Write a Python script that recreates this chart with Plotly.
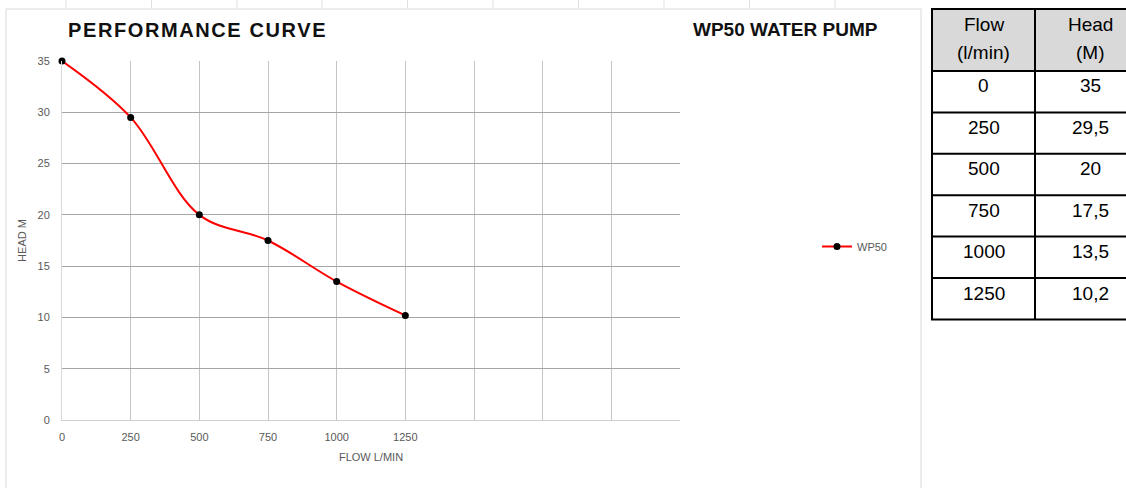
import plotly.graph_objects as go

# ---- data ----
flow = [0, 250, 500, 750, 1000, 1250]
head = [35, 29.5, 20, 17.5, 13.5, 10.2]
series_name = "WP50"
x_grid = [0, 250, 500, 750, 1000, 1250, 1500, 1750, 2000, 2250]
x_tick_labels = ["0", "250", "500", "750", "1000", "1250", "", "", "", ""]
y_ticks = [0, 5, 10, 15, 20, 25, 30, 35]
table_header_line1 = ["Flow", "Head"]
table_header_line2 = ["(l/min)", "(M)"]
title_left = "PERFORMANCE CURVE"
title_right = "WP50 WATER PUMP"

# ---- layout geometry (pixels) ----
W, H = 1126, 488
L, R, T, B = 62, 680, 61, 420


def px(x):
    return (x - L) / (R - L)


def py(y):
    return (B - y) / (B - T)


NARROW = "Liberation Sans Narrow, Arial Narrow, Liberation Sans, sans-serif"
GREY_TXT = "#595959"

fig = go.Figure()
fig.add_trace(go.Scatter(
    x=flow, y=head, name=series_name, mode="lines+markers",
    line=dict(color="#ff0000", width=2, shape="spline", smoothing=1),
    marker=dict(color="#000000", size=7),
    cliponaxis=False,
))

shapes = []
annotations = []

# chart frame
shapes.append(dict(type="rect", xref="paper", yref="paper",
                   x0=px(6), x1=px(921), y0=py(9), y1=py(495),
                   line=dict(color="#d9d9d9", width=1), layer="below"))
# spreadsheet cell lines peeking above the chart
for gx in [66, 151.5, 237, 322, 407.5, 493, 578.5, 664, 749.5, 835]:
    shapes.append(dict(type="line", xref="paper", yref="paper",
                       x0=px(gx), x1=px(gx), y0=py(0), y1=py(8),
                       line=dict(color="#e1e1e1", width=1)))

# titles
annotations.append(dict(
    xref="paper", yref="paper", x=px(66), y=py(30.5), xanchor="left", yanchor="middle",
    text='<span style="letter-spacing:1.6px"><b>' + title_left + '</b></span>',
    showarrow=False, font=dict(family="Liberation Sans, Arial, sans-serif", size=20, color="#111111")))
annotations.append(dict(
    xref="paper", yref="paper", x=px(785), y=py(30), xanchor="center", yanchor="middle",
    text="<b>" + title_right + "</b>",
    showarrow=False, font=dict(family=NARROW, size=19, color="#111111")))

# ---- table on the right ----
tx0, tx1, tx2 = 932, 1035, 1145
hdr_top, hdr_bot = 9, 71
row_h = 41.4
n = len(flow)
tbl_bot = hdr_bot + n * row_h
shapes.append(dict(type="rect", xref="paper", yref="paper",
                   x0=px(tx0), x1=px(tx2), y0=py(hdr_top), y1=py(hdr_bot),
                   fillcolor="#d9d9d9", line=dict(width=0), layer="below"))
blk = dict(color="#000000", width=2)
shapes.append(dict(type="rect", xref="paper", yref="paper",
                   x0=px(tx0), x1=px(tx2), y0=py(hdr_top), y1=py(tbl_bot), line=blk))
shapes.append(dict(type="line", xref="paper", yref="paper",
                   x0=px(tx1), x1=px(tx1), y0=py(hdr_top), y1=py(tbl_bot), line=blk))
for i in range(n):
    yy = hdr_bot + i * row_h
    shapes.append(dict(type="line", xref="paper", yref="paper",
                       x0=px(tx0), x1=px(tx2), y0=py(yy), y1=py(yy), line=blk))

cell_font = dict(family="Liberation Sans, Arial, sans-serif", size=19, color="#000000")
col_cx = [983.5, 1090]
for c in range(2):
    annotations.append(dict(xref="paper", yref="paper", x=px(col_cx[c]), y=py(25),
                            xanchor="center", yanchor="middle", text=table_header_line1[c],
                            showarrow=False, font=cell_font))
    annotations.append(dict(xref="paper", yref="paper", x=px(col_cx[c]), y=py(53),
                            xanchor="center", yanchor="middle", text=table_header_line2[c],
                            showarrow=False, font=cell_font))


def fmt(v):
    return ("%g" % v).replace(".", ",")


for i in range(n):
    cy = hdr_bot + i * row_h + 15
    for c, val in enumerate([flow[i], head[i]]):
        annotations.append(dict(xref="paper", yref="paper", x=px(col_cx[c]), y=py(cy),
                                xanchor="center", yanchor="middle", text=fmt(val),
                                showarrow=False, font=cell_font))

fig.update_layout(
    width=W, height=H,
    margin=dict(l=L, r=W - R, t=T, b=H - B),
    paper_bgcolor="#ffffff", plot_bgcolor="#ffffff",
    showlegend=True,
    legend=dict(x=px(817), y=py(246.5), xanchor="left", yanchor="middle",
                font=dict(family=NARROW, size=11, color=GREY_TXT),
                itemwidth=30, bgcolor="rgba(0,0,0,0)"),
    xaxis=dict(range=[0, 2250], tickmode="array", tickvals=x_grid, ticktext=x_tick_labels,
               showgrid=True, gridcolor="#c4c4c4", gridwidth=1,
               showline=True, linecolor="#d0d0d0", zeroline=False,
               ticks="outside", ticklen=7, tickcolor="rgba(0,0,0,0)",
               tickfont=dict(family=NARROW, size=11, color=GREY_TXT),
               title=dict(text="FLOW L/MIN", standoff=11,
                          font=dict(family=NARROW, size=11, color=GREY_TXT))),
    yaxis=dict(range=[0, 35], tickmode="array", tickvals=y_ticks,
               showgrid=True, gridcolor="#a6a6a6", gridwidth=1,
               showline=True, linecolor="#d9d9d9", zeroline=False,
               ticks="outside", ticklen=9, tickcolor="rgba(0,0,0,0)",
               tickfont=dict(family=NARROW, size=11, color=GREY_TXT),
               title=dict(text="HEAD M", standoff=8,
                          font=dict(family=NARROW, size=11, color=GREY_TXT))),
    shapes=shapes, annotations=annotations,
)

fig.write_html("out.html", config={"displayModeBar": False},
               post_script="document.body.style.margin='0';document.body.style.overflow='hidden';")
